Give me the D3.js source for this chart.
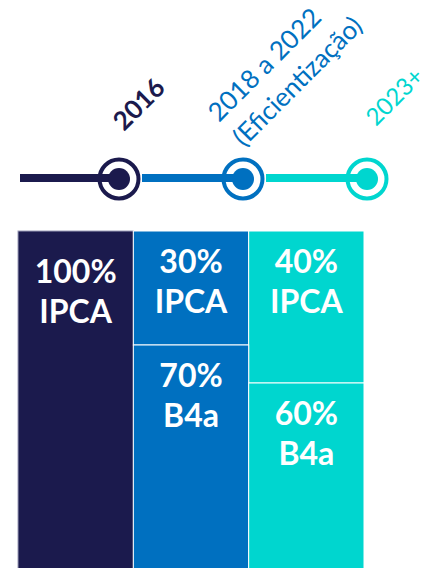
<!DOCTYPE html>
<html>
<head>
<meta charset="utf-8">
<script src="https://cdn.jsdelivr.net/npm/d3@7"></script>
<style>
  html, body { margin: 0; padding: 0; background: #fff; }
  svg { display: block; font-family: Lato, 'Open Sans', sans-serif; }
</style>
</head>
<body>
<div id="chart"></div>
<script>
// periods on the timeline, one stacked column each
const periods = ['2016', '2018 a 2022', '2023+'];
const periodNotes = ['', '(Eficientização)', ''];
const series = ['IPCA', 'B4a'];
const ipcaShare = [100, 30, 40];
const b4aShare = [0, 70, 60];
const colors = ['#1b1a4d', '#0070c0', '#00d6cf'];

const width = 428;
const height = 568;

const svg = d3.select('#chart').append('svg')
  .attr('width', width)
  .attr('height', height);

// ---- columns
const rows = periods.map((p, i) => ({ period: p, IPCA: ipcaShare[i], B4a: b4aShare[i] }));
const stacked = d3.stack().keys(series)(rows);

const x = d3.scaleBand()
  .domain(periods)
  .range([18, 364])
  .padding(0);

// stacked from the top down; the columns run off the bottom of the picture
const y = d3.scaleLinear()
  .domain([0, 100])
  .range([231, 611]);

const color = d3.scaleOrdinal().domain(periods).range(colors);

const segments = [];
stacked.forEach((layer) => {
  layer.forEach((d) => {
    if (d[1] - d[0] > 0) {
      segments.push({ key: layer.key, period: d.data.period, y0: d[0], y1: d[1] });
    }
  });
});

const cols = svg.append('g').attr('class', 'columns');

cols.selectAll('rect')
  .data(segments)
  .enter().append('rect')
    .attr('x', (d) => x(d.period))
    .attr('y', (d) => y(d.y0))
    .attr('width', x.bandwidth())
    .attr('height', (d) => y(d.y1) - y(d.y0))
    .attr('fill', (d) => color(d.period))
    .attr('stroke', (d) => (d.period === periods[0] ? '#9c9cb8' : '#fff'))
    .attr('stroke-width', 1);

const label = cols.selectAll('text')
  .data(segments)
  .enter().append('text')
    .attr('text-anchor', 'middle')
    .attr('fill', '#fff')
    .attr('font-weight', 700)
    .attr('font-size', 32)
    .attr('transform', (d) => {
      const top = y(d.y0) + (d.y1 - d.y0 === 100 ? 52 : 42);
      return `translate(${x(d.period) + x.bandwidth() / 2},${top})`;
    });

label.append('tspan')
  .attr('x', 0)
  .text((d) => `${d.y1 - d.y0}%`);
label.append('tspan')
  .attr('x', 0)
  .attr('dy', 40)
  .text((d) => d.key);

// ---- timeline
const tx = d3.scalePoint()
  .domain(periods)
  .range([119, 367]);
const lineY = 178;

const tl = svg.append('g').attr('class', 'timeline');

// white discs with the outer ring
tl.selectAll('circle.ring')
  .data(periods)
  .enter().append('circle')
    .attr('class', 'ring')
    .attr('cx', (d) => tx(d))
    .attr('cy', lineY + 1)
    .attr('r', 19.5)
    .attr('fill', '#fff')
    .attr('stroke', (d) => color(d))
    .attr('stroke-width', 4);

// each segment runs from the previous ring into the next node
tl.selectAll('line')
  .data(periods)
  .enter().append('line')
    .attr('x1', (d, i) => (i === 0 ? 20 : tx(periods[i - 1]) + 23))
    .attr('x2', (d) => tx(d))
    .attr('y1', lineY)
    .attr('y2', lineY)
    .attr('stroke', (d) => color(d))
    .attr('stroke-width', 8);

tl.selectAll('circle.dot')
  .data(periods)
  .enter().append('circle')
    .attr('class', 'dot')
    .attr('cx', (d) => tx(d))
    .attr('cy', lineY + 1)
    .attr('r', 11)
    .attr('fill', (d) => color(d));

// rotated period names
const names = tl.selectAll('text')
  .data(periods)
  .enter().append('text')
    .attr('fill', (d) => color(d))
    .attr('font-weight', (d, i) => (i === 0 ? 700 : 400))
    .attr('font-size', (d, i) => [26, 26, 24][i])
    .attr('transform', (d, i) => {
      if (periodNotes[i]) return `translate(${tx(d) - 24},${lineY - 55}) rotate(-45)`;
      if (i === 0) return `translate(${tx(d) + 5},${lineY - 46}) rotate(-45)`;
      return `translate(${tx(d) + 9},${lineY - 51}) rotate(-45)`;
    });

names.append('tspan')
  .attr('x', 0)
  .text((d) => d);
names.filter((d, i) => periodNotes[i])
  .append('tspan')
    .attr('x', 0)
    .attr('dy', '1.35em')
    .text((d) => periodNotes[periods.indexOf(d)]);
</script>
</body>
</html>
